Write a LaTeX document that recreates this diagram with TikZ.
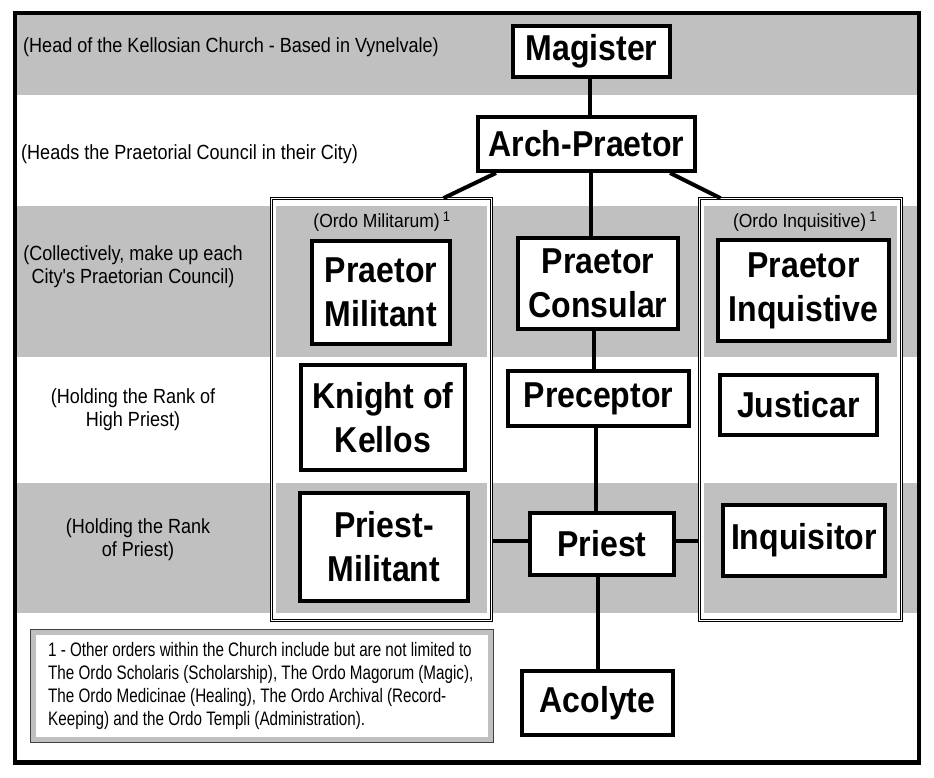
\documentclass[tikz,border=0pt]{standalone}
\usepackage{fontspec}
\usetikzlibrary{calc}
\newfontfamily\rankfont[FakeStretch=0.89]{Liberation Sans}
\newfontfamily\notefont[FakeStretch=0.88]{Liberation Sans}
\newfontfamily\grpfont[FakeStretch=0.92]{Liberation Sans}
\newfontfamily\footfont[FakeStretch=0.78]{Liberation Sans}
\definecolor{bandgray}{RGB}{192,192,192}

\begin{document}
\begin{tikzpicture}[x=1pt, y=-1pt,
    rank/.style={draw, line width=4pt, fill=white, inner sep=0pt, align=center,
      font=\rankfont\bfseries\fontsize{36}{44}\selectfont},
    link/.style={line width=4pt},
    group/.style={draw, double, line width=0.9pt, double distance=1.4pt, fill=white, inner sep=0pt},
    grplabel/.style={inner sep=0pt, font=\grpfont\fontsize{19}{22}\selectfont},
    note/.style={inner sep=0pt, align=center, font=\notefont\fontsize{20.5}{22.7}\selectfont},
    foot/.style={inner sep=0pt, align=left, font=\footfont\fontsize{19.5}{23}\selectfont}]
    \useasboundingbox (0,0) rectangle (934,778);
    \fill[white] (0,0) rectangle (934,778);

    % grey bands
    \foreach \ya/\yb in {15/95, 206/357, 483/613}
        \fill[bandgray] (17,\ya) rectangle (917,\yb);

    % the two orders
    \node[group, minimum width=219.8, minimum height=421.8] (milgrp) at (381.5,409.5) {};
    \node[group, minimum width=201.8, minimum height=421.8] (inqgrp) at (800.5,409.5) {};
    \foreach \xa/\xb in {276/487, 704/897}
        \foreach \ya/\yb in {206/357, 483/613}
            \fill[bandgray] (\xa,\ya) rectangle (\xb,\yb);
    \node[grplabel] (milhead) at (382,222) {(Ordo Militarum)\,\textsuperscript{\fontsize{14}{14}\selectfont 1}};
    \node[grplabel] (inqhead) at (805,222) {(Ordo Inquisitive)\,\textsuperscript{\fontsize{14}{14}\selectfont 1}};

    % left column
    \node[note, anchor=west] (lab1) at (23,47) {(Head of the Kellosian Church - Based in Vynelvale)};
    \node[note, anchor=west] (lab2) at (21,154) {(Heads the Praetorial Council in their City)};
    \node[note] (lab3) at (133,267) {(Collectively, make up each\\City's Praetorian Council)};
    \node[note] (lab4) at (133,410) {(Holding the Rank of\\High Priest)};
    \node[note] (lab5) at (138,540) {(Holding the Rank\\of Priest)};

    % ranks
    \node[rank, minimum width=157, minimum height=51] (mag) at (591.5,51.5) {Magister};
    \node[rank, minimum width=217, minimum height=54] (arch) at (586.5,144) {Arch-Praetor};
    \node[rank, minimum width=138, minimum height=103] (pmil) at (381,292.5) {Praetor\\Militant};
    \node[rank, minimum width=160, minimum height=91] (pcons) at (598,283.5) {Praetor\\Consular};
    \node[rank, minimum width=171, minimum height=101] (pinq) at (803.5,290.5) {Praetor\\Inquistive};
    \node[rank, minimum width=164, minimum height=105] (knight) at (383,417.5) {Knight of\\Kellos};
    \node[rank, minimum width=181, minimum height=55] (prec) at (598.5,398.5) {Preceptor};
    \node[rank, minimum width=157, minimum height=60] (just) at (798.5,405) {Justicar};
    \node[rank, minimum width=168, minimum height=108] (primil) at (384,547) {Priest-\\Militant};
    \node[rank, minimum width=144, minimum height=62] (pri) at (602,544) {Priest};
    \node[rank, minimum width=162, minimum height=71] (inq) at (804,540.5) {Inquisitor};
    \node[rank, minimum width=151, minimum height=64] (aco) at (597.5,703) {Acolyte};

    % connectors
    \draw[link] ($(mag.south)+(-2,0)$) -- ($(mag.south |- arch.north)+(-2,0)$);
    \draw[link] ($(arch.south)+(4,0)$) -- ($(arch.south |- pcons.north)+(4,0)$);
    \draw[link] ([xshift=20]arch.south west) -- ([xshift=-48.4]milgrp.north east);
    \draw[link] ([xshift=-27]arch.south east) -- ([xshift=21.4]inqgrp.north west);
    \draw[link] ($(pcons.south)+(-4,0)$) -- ($(pcons.south |- prec.north)+(-4,0)$);
    \draw[link] ($(prec.south)+(-3,0)$) -- ($(prec.south |- pri.north)+(-3,0)$);
    \draw[link] (aco.north) -- (aco.north |- pri.south);
    \draw[link] ($(pri.west)+(0,-3)$) -- ($(pri.west -| milgrp.east)+(0,-3)$);
    \draw[link] ($(pri.east)+(0,-3)$) -- ($(pri.east -| inqgrp.west)+(0,-3)$);

    % footnote
    \draw[black!75, line width=1.2pt, fill=bandgray] (30.6,629.6) rectangle (493.4,742.4);
    \fill[white] (36,635) rectangle (488,737);
    \node[foot, anchor=west] (fn) at (48,686) {1 - Other orders within the Church include but are not limited to\\
        The Ordo Scholaris (Scholarship), The Ordo Magorum (Magic),\\
        The Ordo Medicinae (Healing), The Ordo Archival (Record-\\
        Keeping) and the Ordo Templi (Administration).};

    % outer frame
    \draw[line width=4.5pt] (15,13) rectangle (919,762.5);
\end{tikzpicture}
\end{document}
